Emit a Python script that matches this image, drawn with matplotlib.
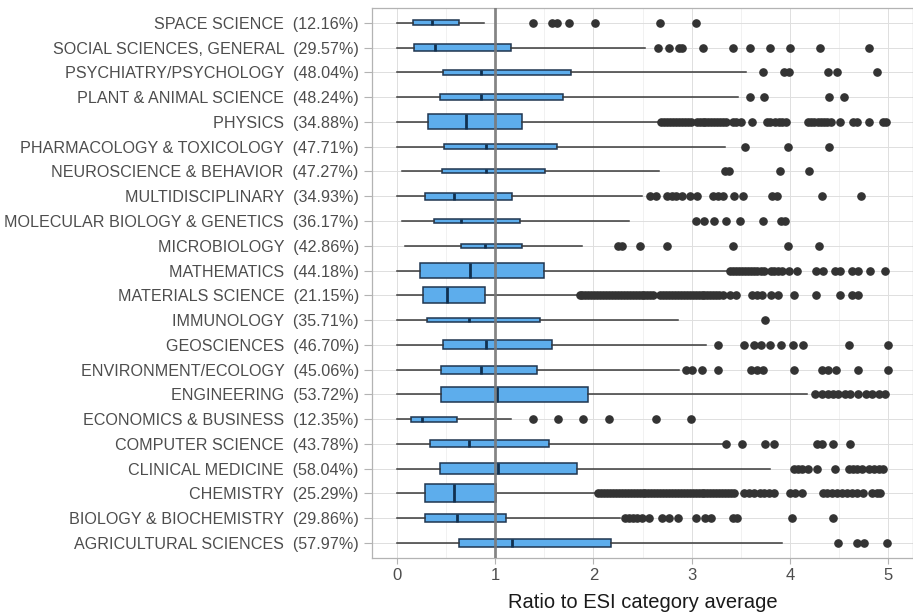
import numpy as np
import matplotlib
matplotlib.use("Agg")
import matplotlib.pyplot as plt
from matplotlib.ticker import MultipleLocator

plt.rcParams['font.family'] = ['Liberation Sans', 'DejaVu Sans']

# categories, top to bottom as in the figure
fields = ["SPACE SCIENCE", "SOCIAL SCIENCES, GENERAL", "PSYCHIATRY/PSYCHOLOGY",
          "PLANT & ANIMAL SCIENCE", "PHYSICS", "PHARMACOLOGY & TOXICOLOGY",
          "NEUROSCIENCE & BEHAVIOR", "MULTIDISCIPLINARY", "MOLECULAR BIOLOGY & GENETICS",
          "MICROBIOLOGY", "MATHEMATICS", "MATERIALS SCIENCE", "IMMUNOLOGY",
          "GEOSCIENCES", "ENVIRONMENT/ECOLOGY", "ENGINEERING", "ECONOMICS & BUSINESS",
          "COMPUTER SCIENCE", "CLINICAL MEDICINE", "CHEMISTRY",
          "BIOLOGY & BIOCHEMISTRY", "AGRICULTURAL SCIENCES"]
shares = [12.16, 29.57, 48.04, 48.24, 34.88, 47.71, 47.27, 34.93, 36.17, 42.86,
          44.18, 21.15, 35.71, 46.70, 45.06, 53.72, 12.35, 43.78, 58.04, 25.29,
          29.86, 57.97]

# relative number of papers per field (drives box thickness)
n_papers = [70, 150, 80, 110, 700, 65, 50, 150, 50, 40, 700, 790, 50, 250,
            200, 700, 80, 150, 370, 1000, 200, 200]

whis_lo = [0.0, 0.0, 0.0, 0.0, 0.0, 0.0, 0.05, 0.0, 0.05, 0.09, 0.0, 0.0,
           0.0, 0.0, 0.0, 0.0, 0.0, 0.0, 0.0, 0.0, 0.0, 0.0]
q1 = [0.17, 0.18, 0.47, 0.44, 0.32, 0.48, 0.46, 0.29, 0.38, 0.65, 0.24, 0.27,
      0.31, 0.47, 0.45, 0.45, 0.145, 0.34, 0.44, 0.29, 0.29, 0.63]
med = [0.36, 0.39, 0.86, 0.86, 0.71, 0.91, 0.91, 0.58, 0.65, 0.90, 0.75, 0.51,
       0.74, 0.91, 0.86, 1.02, 0.26, 0.74, 1.03, 0.58, 0.61, 1.17]
q3 = [0.635, 1.16, 1.77, 1.69, 1.28, 1.63, 1.51, 1.17, 1.25, 1.27, 1.50, 0.90,
      1.46, 1.58, 1.43, 1.95, 0.61, 1.55, 1.83, 1.01, 1.11, 2.18]
whis_hi = [0.89, 2.53, 3.55, 3.47, 2.66, 3.34, 2.67, 2.49, 2.36, 1.89, 3.37, 1.85,
           2.86, 3.15, 2.87, 4.17, 1.16, 3.32, 3.80, 2.04, 2.27, 3.92]

fliers = [
    [1.39, 1.58, 1.63, 1.75, 2.02, 2.68, 3.04],
    [2.66, 2.77, 2.87, 2.90, 3.12, 3.42, 3.59, 3.80, 4.00, 4.30, 4.80],
    [3.73, 3.94, 3.99, 4.39, 4.48, 4.88],
    [3.59, 3.74, 4.40, 4.55],
    [2.69, 2.72, 2.75, 2.78, 2.81, 2.84, 2.87, 2.90, 2.93, 2.96, 2.99, 3.05, 3.08,
     3.11, 3.14, 3.17, 3.20, 3.23, 3.26, 3.29, 3.32, 3.35, 3.42, 3.45, 3.50, 3.61,
     3.77, 3.80, 3.85, 3.89, 3.92, 3.96, 4.18, 4.21, 4.24, 4.28, 4.31, 4.35, 4.38,
     4.42, 4.51, 4.64, 4.68, 4.80, 4.94, 4.98],
    [3.54, 3.98, 4.40],
    [3.34, 3.38, 3.90, 4.19],
    [2.58, 2.64, 2.75, 2.80, 2.84, 2.90, 2.98, 3.05, 3.22, 3.27, 3.32, 3.43, 3.52,
     3.82, 3.87, 4.32, 4.72],
    [3.04, 3.13, 3.23, 3.35, 3.49, 3.73, 3.91, 3.95],
    [2.25, 2.29, 2.47, 2.75, 3.42, 3.98, 4.29],
    [3.39, 3.42, 3.45, 3.48, 3.51, 3.54, 3.57, 3.60, 3.63, 3.66, 3.70, 3.74, 3.81,
     3.84, 3.88, 3.92, 3.99, 4.07, 4.26, 4.33, 4.46, 4.51, 4.63, 4.69, 4.81, 4.97],
    [1.86, 1.89, 1.92, 1.95, 1.98, 2.01, 2.04, 2.07, 2.10, 2.13, 2.16, 2.19, 2.22,
     2.25, 2.28, 2.31, 2.34, 2.37, 2.40, 2.43, 2.46, 2.49, 2.52, 2.55, 2.58, 2.61,
     2.68, 2.71, 2.74, 2.77, 2.80, 2.83, 2.86, 2.89, 2.92, 2.95, 2.98, 3.01, 3.04,
     3.07, 3.10, 3.13, 3.16, 3.19, 3.22, 3.25, 3.28, 3.32, 3.39, 3.45, 3.61, 3.66,
     3.71, 3.81, 3.88, 4.04, 4.26, 4.51, 4.63, 4.69],
    [3.75],
    [3.27, 3.53, 3.63, 3.70, 3.80, 3.91, 4.03, 4.13, 4.60, 5.00],
    [2.94, 3.00, 3.10, 3.27, 3.60, 3.66, 3.73, 4.04, 4.32, 4.39, 4.47, 4.69, 5.00],
    [4.25, 4.32, 4.39, 4.44, 4.49, 4.56, 4.61, 4.69, 4.77, 4.83, 4.90, 4.97],
    [1.39, 1.64, 1.90, 2.16, 2.64, 2.99],
    [3.35, 3.51, 3.75, 3.84, 4.27, 4.32, 4.44, 4.61],
    [4.04, 4.08, 4.12, 4.18, 4.27, 4.46, 4.60, 4.64, 4.68, 4.73, 4.80, 4.85, 4.90,
     4.94],
    [2.05, 2.08, 2.11, 2.14, 2.17, 2.20, 2.23, 2.26, 2.29, 2.32, 2.35, 2.38, 2.41,
     2.44, 2.47, 2.50, 2.53, 2.56, 2.59, 2.62, 2.65, 2.68, 2.71, 2.74, 2.77, 2.80,
     2.83, 2.86, 2.89, 2.92, 2.95, 2.98, 3.01, 3.04, 3.07, 3.10, 3.13, 3.16, 3.19,
     3.22, 3.25, 3.28, 3.31, 3.34, 3.37, 3.40, 3.43, 3.53, 3.58, 3.63, 3.69, 3.74,
     3.79, 3.84, 4.00, 4.05, 4.12, 4.33, 4.38, 4.43, 4.48, 4.53, 4.58, 4.63, 4.68,
     4.74, 4.83, 4.88, 4.91],
    [2.32, 2.36, 2.40, 2.44, 2.49, 2.57, 2.70, 2.77, 2.86, 3.04, 3.14, 3.20, 3.42,
     3.46, 4.02, 4.44],
    [4.49, 4.68, 4.75, 4.99],
]

labels = [f"{f}  ({s:.2f}%)" for f, s in zip(fields, shares)]
k = len(fields)
ypos = np.arange(k, 0, -1)

stats = []
for i in range(k):
    stats.append(dict(whislo=whis_lo[i], q1=q1[i], med=med[i], q3=q3[i],
                      whishi=whis_hi[i], fliers=fliers[i]))
nmax = max(n_papers)
widths = [0.73 * np.sqrt(n / nmax) for n in n_papers]

fig = plt.figure(figsize=(9.13, 6.15), dpi=100)
ax = fig.add_axes([372 / 913, 1 - 557.8 / 615, 541 / 913, (557.8 - 8) / 615])

ax.bxp(stats, positions=ypos, widths=widths, vert=False, showcaps=False,
       patch_artist=True,
       boxprops=dict(facecolor='#5dadec', edgecolor='#1f3550', linewidth=1.1),
       medianprops=dict(color='#10304f', linewidth=2.0),
       whiskerprops=dict(color='#3a3a3a', linewidth=1.1),
       flierprops=dict(marker='o', markerfacecolor='#333333', markeredgecolor='#333333',
                       markersize=5.2, linestyle='none'))

ax.axvline(1, color='#7a7a7a', linewidth=2.0, alpha=0.9, zorder=5)

ax.set_xlim(-0.25, 5.25)
ax.set_ylim(0.4, k + 0.6)
ax.xaxis.set_major_locator(MultipleLocator(1))
ax.xaxis.set_minor_locator(MultipleLocator(0.5))
ax.set_yticks(ypos)
ax.set_yticklabels(labels)
ax.grid(True, which='major', color='#dedede', linewidth=0.7)
ax.grid(True, which='minor', axis='x', color='#ececec', linewidth=0.5)
ax.set_axisbelow(True)
for sp in ax.spines.values():
    sp.set_color('#b3b3b3')
    sp.set_linewidth(0.9)
ax.tick_params(axis='y', which='major', colors='#b3b3b3', labelcolor='#4d4d4d',
               labelsize=11.6, length=6, width=0.8)
ax.tick_params(axis='x', which='major', colors='#b3b3b3', labelcolor='#4d4d4d',
               labelsize=12, length=4, width=0.8)
ax.tick_params(axis='x', which='minor', length=0)
ax.set_xlabel("Ratio to ESI category average", fontsize=14.5, color='#1a1a1a', labelpad=7)

fig.savefig("out.png", dpi=100)
